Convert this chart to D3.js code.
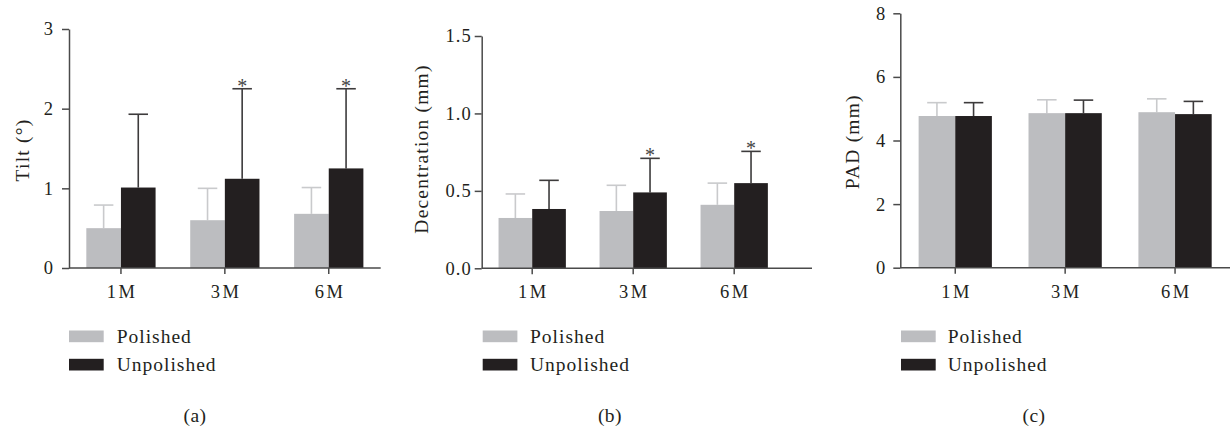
<!DOCTYPE html>
<html><head><meta charset="utf-8">
<script src="https://cdn.jsdelivr.net/npm/d3@7"></script>
<style>
body{margin:0;background:#fff;}
svg{display:block;font-family:"Liberation Serif","Times New Roman",serif;}
</style></head>
<body><svg id="c" width="1232" height="432"></svg>
<script>
const categories = ["1M","3M","6M"];
const seriesNames = ["Polished","Unpolished"];
// Panel (a) Tilt
const tiltPolished = [0.50, 0.60, 0.68];
const tiltPolishedErr = [0.29, 0.40, 0.33];
const tiltUnpolished = [1.01, 1.12, 1.25];
const tiltUnpolishedErr = [0.92, 1.13, 1.00];
const tiltSig = [false, true, true];
const tiltTicks = [0, 1, 2, 3];
// Panel (b) Decentration
const decPolished = [0.325, 0.37, 0.41];
const decPolishedErr = [0.155, 0.166, 0.14];
const decUnpolished = [0.383, 0.49, 0.55];
const decUnpolishedErr = [0.185, 0.22, 0.205];
const decSig = [false, true, true];
const decTicks = [0.0, 0.5, 1.0, 1.5];
// Panel (c) PAD
const padPolished = [4.77, 4.86, 4.89];
const padPolishedErr = [0.42, 0.42, 0.42];
const padUnpolished = [4.77, 4.86, 4.83];
const padUnpolishedErr = [0.42, 0.41, 0.40];
const padSig = [false, false, false];
const padTicks = [0, 2, 4, 6, 8];

const COL = {pol:"#bcbdc0", unp:"#231f20", polErr:"#c9cacc", unpErr:"#3d3b3c", axis:"#4a4a4a", text:"#231f20"};
const FONT = "Liberation Serif";

const panels = [
  {id:"(a)", title:"Tilt (°)", pol:tiltPolished, polE:tiltPolishedErr, unp:tiltUnpolished, unpE:tiltUnpolishedErr, sig:tiltSig,
   ticks:tiltTicks, fmt:d3.format("d"), max:3, left:69, bandEnd:380.7, axisEnd:380.7, top:29, bottom:268, pad:8,
   titleX:22, titleY:150, legX:69, legTextX:116.7, labelX:195},
  {id:"(b)", title:"Decentration (mm)", pol:decPolished, polE:decPolishedErr, unp:decUnpolished, unpE:decUnpolishedErr, sig:decSig,
   ticks:decTicks, fmt:d3.format(".1f"), max:1.5, left:481.7, bandEnd:784.7, axisEnd:812, top:36, bottom:268.3, pad:3,
   titleX:421.7, titleY:149, legX:482.7, legTextX:530, labelX:610},
  {id:"(c)", title:"PAD (mm)", pol:padPolished, polE:padPolishedErr, unp:padUnpolished, unpE:padUnpolishedErr, sig:padSig,
   ticks:padTicks, fmt:d3.format("d"), max:8, left:900.3, bandEnd:1230, axisEnd:1230, top:13.3, bottom:267.7, pad:7,
   titleX:852.3, titleY:141.7, legX:901, legTextX:947.7, labelX:1034}
];

const svg = d3.select("#c");

panels.forEach(p => {
  const g = svg.append("g");
  const x = d3.scaleBand().domain(categories).range([p.left, p.bandEnd]).padding(0);
  const y = d3.scaleLinear().domain([0, p.max]).range([p.bottom, p.top]);
  const bw = x.step() / 3;
  const sub = d3.scaleBand().domain(seriesNames).range([0, 2*bw]);

  const rows = categories.map((c,i) => [
    {c, s:"Polished", v:p.pol[i], e:p.polE[i], sig:false},
    {c, s:"Unpolished", v:p.unp[i], e:p.unpE[i], sig:p.sig[i]}
  ]).flat();
  const bx = d => x(d.c) + x.bandwidth()/2 - bw + sub(d.s);

  // error bars
  const capW = 19.5;
  rows.forEach(d => {
    const cx = bx(d) + bw/2;
    const col = d.s === "Polished" ? COL.polErr : COL.unpErr;
    g.append("line").attr("x1",cx).attr("x2",cx).attr("y1",y(d.v)).attr("y2",y(d.v+d.e))
      .attr("stroke",col).attr("stroke-width",1.6);
    g.append("line").attr("x1",cx-capW/2).attr("x2",cx+capW/2).attr("y1",y(d.v+d.e)).attr("y2",y(d.v+d.e))
      .attr("stroke",col).attr("stroke-width",1.6);
    if (d.sig) {
      g.append("text").attr("x",cx).attr("y",y(d.v+d.e)+4).attr("text-anchor","middle")
        .attr("font-size",20).attr("fill","#444").attr("font-family",FONT).text("*");
    }
  });
  // bars
  g.selectAll("rect.bar").data(rows).join("rect").attr("class","bar")
    .attr("x", bx).attr("width", bw)
    .attr("y", d => y(d.v)).attr("height", d => y(0) - y(d.v))
    .attr("fill", d => d.s === "Polished" ? COL.pol : COL.unp);

  // y axis
  const ya = g.append("g").attr("transform",`translate(${p.left},0)`)
    .call(d3.axisLeft(y).tickValues(p.ticks).tickFormat(p.fmt).tickSize(7).tickSizeOuter(0).tickPadding(p.pad));
  ya.attr("font-family",FONT);
  ya.select(".domain").attr("stroke",COL.axis).attr("stroke-width",1.5);
  ya.selectAll(".tick line").attr("stroke",COL.axis).attr("stroke-width",1.5);
  ya.selectAll(".tick text").attr("font-size",18.5).attr("fill",COL.text).style("letter-spacing","1px");

  // x axis
  const xa = g.append("g").attr("transform",`translate(0,${p.bottom})`)
    .call(d3.axisBottom(x).tickSize(6).tickSizeOuter(0).tickPadding(11));
  xa.attr("font-family",FONT);
  xa.select(".domain").attr("d",`M${p.left},0H${p.axisEnd}`).attr("stroke",COL.axis).attr("stroke-width",1.5);
  xa.selectAll(".tick line").attr("stroke",COL.axis).attr("stroke-width",1.5);
  xa.selectAll(".tick text").attr("font-size",18.5).attr("fill",COL.text)
    .style("letter-spacing","2.5px").attr("dx","1.25px");

  // y title
  g.append("text").attr("transform",`translate(${p.titleX},${p.titleY}) rotate(-90)`)
    .attr("text-anchor","middle").attr("dominant-baseline","central").attr("font-family",FONT)
    .attr("font-size",19.5).attr("fill",COL.text).style("letter-spacing","1.2px").text(p.title);

  // legend
  seriesNames.forEach((s,i) => {
    g.append("rect").attr("x",p.legX).attr("y",330.5 + i*28.3).attr("width",34.7).attr("height",11.7)
      .attr("fill", i===0 ? COL.pol : COL.unp);
    g.append("text").attr("x",p.legTextX).attr("y",342.5 + i*28.3).attr("font-size",19.5).attr("font-family",FONT)
      .attr("fill",COL.text).style("letter-spacing","1px").text(s);
  });

  // panel label
  g.append("text").attr("x",p.labelX).attr("y",422).attr("text-anchor","middle").attr("font-family",FONT)
    .attr("font-size",19.5).attr("fill",COL.text).style("letter-spacing","0.5px").text(p.id);
});
</script></body></html>
